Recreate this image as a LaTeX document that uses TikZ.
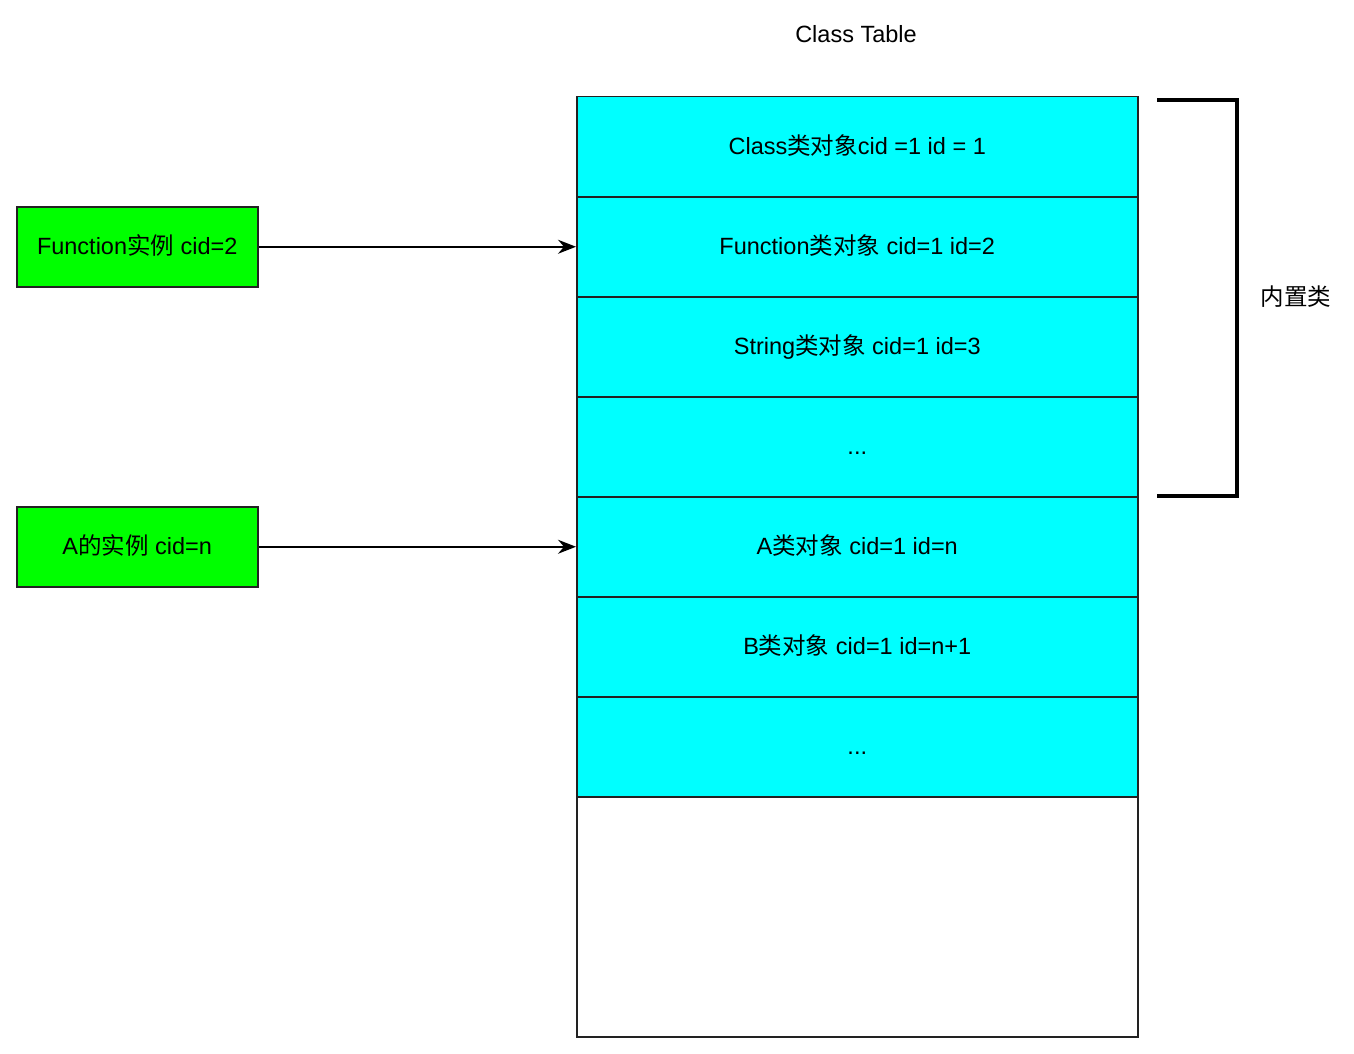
\documentclass[tikz,border=0pt]{standalone}
\usepackage{fontspec}
\setmainfont{Liberation Sans}
\newfontfamily\cjk{Noto Sans CJK SC}
\usetikzlibrary{arrows.meta}
\definecolor{cellcyan}{HTML}{00FFFF}
\definecolor{instgreen}{HTML}{00FF00}
\definecolor{edge}{HTML}{222222}
\tikzset{
  cell/.style={draw=edge, line width=1.5pt, fill=cellcyan, minimum width=561pt, minimum height=100pt, inner sep=0pt, anchor=north west},
  inst/.style={draw=edge, line width=1.5pt, fill=instgreen, minimum width=241pt, minimum height=80pt, inner sep=0pt, anchor=north west},
  lbl/.style={font=\fontsize{23.5}{28}\selectfont, text height=18pt, text depth=2pt},
  conn/.style={line width=1.5pt, -{Stealth[length=18pt,width=14pt,inset=6pt]}}
}
\begin{document}
\begin{tikzpicture}[x=1pt,y=-1pt]
\useasboundingbox (0,0) rectangle (1354,1054);
\node[lbl] (title) at (856,35) {Class Table};
\node[cell, lbl] (c1) at (576,96) {Class{\cjk 类对象}cid =1 id = 1};
\node[cell, lbl] (c2) at (576,196) {Function{\cjk 类对象} cid=1 id=2};
\node[cell, lbl] (c3) at (576,296) {String{\cjk 类对象} cid=1 id=3};
\node[cell, lbl] (c4) at (576,396) {...};
\node[cell, lbl] (c5) at (576,496) {A{\cjk 类对象} cid=1 id=n};
\node[cell, lbl] (c6) at (576,596) {B{\cjk 类对象} cid=1 id=n+1};
\node[cell, lbl] (c7) at (576,696) {...};
\node[draw=edge, line width=1.5pt, fill=white, minimum width=561pt, minimum height=240pt, inner sep=0pt, anchor=north west] (empty) at (576,796) {};
\node[inst, lbl] (f) at (16,206) {Function{\cjk 实例} cid=2};
\node[inst, lbl] (a) at (16,506) {A{\cjk 的实例} cid=n};
\draw[conn] (f.east) -- (c2.west);
\draw[conn] (a.east) -- (c5.west);
\coordinate (b1) at (1157,100);
\coordinate (b2) at (1237,100);
\coordinate (b3) at (1237,496);
\coordinate (b4) at (1157,496);
\draw[line width=3.5pt] (b1) -- (b2) -- (b3) -- (b4);
\node[lbl] (builtin) at (1296,297) {\cjk 内置类};
\end{tikzpicture}
\end{document}
